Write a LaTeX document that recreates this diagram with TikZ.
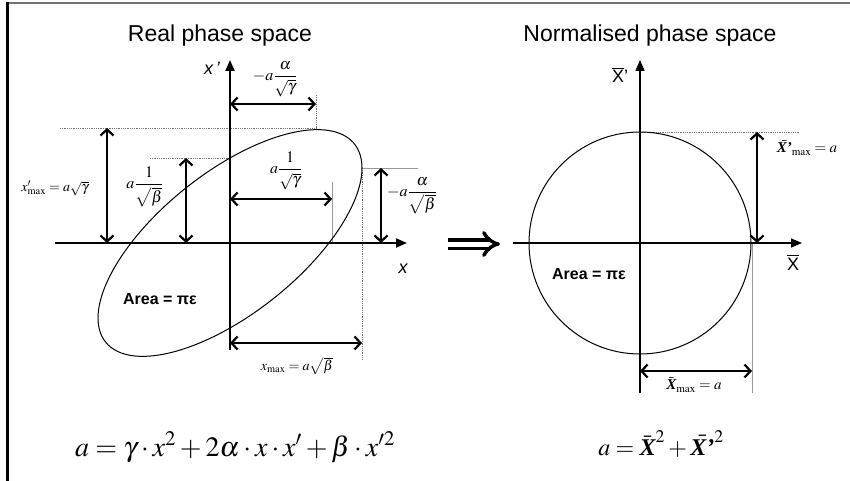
\documentclass[tikz,border=0pt]{standalone}
\usepackage{amsmath}
\usepackage{mathptmx}
\usepackage{fontspec}
\setmainfont{Liberation Serif}
\setsansfont{Liberation Sans}
\usetikzlibrary{arrows.meta}
\newcommand\myXb{\mbox{\bfseries\itshape X}}
\newcommand\myXbp{\mbox{\bfseries\itshape X'}}
\begin{document}
\begin{tikzpicture}[x=1pt,y=-1pt,
  dimarrow/.style={line width=2.2pt,{Straight Barb[length=6pt,width=13pt]}-{Straight Barb[length=6pt,width=13pt]}},
  axisL/.style={line width=2pt,-{Triangle[length=11pt,width=9pt]}},
  axisR/.style={line width=1.5pt,-{Triangle[length=11pt,width=9pt]}},
  guide/.style={black!55,line width=0.8pt,densely dotted},
  greyline/.style={black!40,line width=1pt},
  lab/.style={inner sep=0pt,font=\fontsize{16}{18}\selectfont},
  smalllab/.style={inner sep=0pt,font=\fontsize{14}{16}\selectfont},
  title/.style={inner sep=0pt,anchor=base,font=\sffamily\fontsize{23}{26}\selectfont},
  axlab/.style={inner sep=0pt,anchor=base,font=\sffamily\fontsize{18}{20}\selectfont},
  area/.style={inner sep=0pt,font=\sffamily\bfseries\fontsize{16}{18}\selectfont},
  eqn/.style={inner sep=0pt,anchor=base,font=\fontsize{28}{32}\selectfont}]
\useasboundingbox (0,0) rectangle (850,481);
% frame
\draw[black!55,line width=2pt] (6,3) -- (850,3);
\draw[line width=3pt] (7,2) -- (7,481);

% ---------- left: real phase space ----------
\node[title] (t1) at (220,42) {Real phase space};
\coordinate (O1) at (230,243);
\coordinate (XL) at (55,243);
\coordinate (XR) at (407,243);
\coordinate (YB) at (230,350);
\coordinate (YT) at (230,60);
% guides
\coordinate (g1a) at (60,128);  \coordinate (Etop) at (316,128);
\coordinate (g2a) at (316,95);
\coordinate (g3a) at (150,158); \coordinate (Eyint) at (230,158);
\coordinate (g4a) at (332,182); \coordinate (g4b) at (332,243);
\coordinate (Eright) at (362,168); \coordinate (g5b) at (418,168);
\coordinate (g6b) at (362,360);
\draw[guide] (g1a) -- (Etop);
\draw[guide] (g2a) -- (Etop);
\draw[guide] (g3a) -- (Eyint);
\draw[greyline] (g4a) -- (g4b);
\draw[greyline] (Eright) -- (g5b);
\draw[guide] (Eright) -- (g6b);
% ellipse
\draw[line width=1pt] plot[domain=0:360,samples=120,smooth cycle] ({230+132*cos(\x)},{243-75*cos(\x)+85*sin(\x)});
% axes
\draw[axisL] (XL) -- (XR);
\draw[axisL] (YB) -- (YT);
% dimension arrows
\coordinate (d1a) at (107,128); \coordinate (d1b) at (107,243);
\coordinate (d2a) at (186,158); \coordinate (d2b) at (186,243);
\coordinate (d3a) at (230,104); \coordinate (d3b) at (316,104);
\coordinate (d4a) at (230,199); \coordinate (d4b) at (332,199);
\coordinate (d5a) at (381,168); \coordinate (d5b) at (381,243);
\coordinate (d6a) at (230,343); \coordinate (d6b) at (362,343);
\draw[dimarrow] (d1a) -- (d1b);
\draw[dimarrow] (d2a) -- (d2b);
\draw[dimarrow] (d3a) -- (d3b);
\draw[dimarrow] (d4a) -- (d4b);
\draw[dimarrow] (d5a) -- (d5b);
\draw[dimarrow] (d6a) -- (d6b);
% labels
\node[axlab] (lxp) at (212,75) {\itshape x\,’};
\node[axlab] (lx) at (403,273) {\itshape x};
\node[lab] (l1) at (275,79) {$-a\dfrac{\alpha}{\sqrt{\gamma}}$};
\node[smalllab] (l2) at (55,188) {$x'_{\mathrm{max}} = a\sqrt{\gamma}$};
\node[lab] (l3) at (145,187) {$a\dfrac{1}{\sqrt{\beta}}$};
\node[lab] (l4) at (286,171) {$a\dfrac{1}{\sqrt{\gamma}}$};
\node[lab] (l5) at (412,196) {$-a\dfrac{\alpha}{\sqrt{\beta}}$};
\node[smalllab] (l6) at (297,366) {$x_{\mathrm{max}} = a\sqrt{\beta}$};
\node[area] (a1) at (160,299) {Area = πε};
\node[eqn] (e1) at (235,456) {$a = \gamma\cdot x^2 + 2\alpha\cdot x\cdot x' + \beta\cdot x'^2$};

% implies arrow
\coordinate (IA) at (448,244); \coordinate (IB) at (500,244);
\draw[line width=3.5pt,double distance=5pt,-{Implies}] (IA) -- (IB);

% ---------- right: normalised phase space ----------
\node[title] (t2) at (650,42) {Normalised phase space};
\coordinate (O2) at (640,243);
\coordinate (HL) at (513,243); \coordinate (HR) at (802,243);
\coordinate (VB) at (640,393); \coordinate (VT) at (640,60);
\coordinate (Ctop) at (640,132); \coordinate (c1b) at (800,132);
\coordinate (Cright) at (752,243); \coordinate (c2b) at (752,393);
\draw[guide] (Ctop) -- (c1b);
\draw[greyline] (Cright) -- (c2b);
\draw[line width=1pt] (O2) circle[radius=111];
\draw[axisR] (HL) -- (HR);
\draw[axisR] (VB) -- (VT);
\coordinate (r1a) at (757,132); \coordinate (r1b) at (757,243);
\coordinate (r2a) at (640,371); \coordinate (r2b) at (752,371);
\draw[dimarrow] (r1a) -- (r1b);
\draw[dimarrow] (r2a) -- (r2b);
\node[axlab] (lXp) at (620,83) {$\overline{\mbox{X}}$'};
\node[axlab] (lX) at (793,270) {$\overline{\mbox{X}}$};
\node[smalllab,font=\fontsize{15}{17}\selectfont] (l7) at (807,148) {$\bar{\myXbp}_{\mathrm{max}} = a$};
\node[smalllab,font=\fontsize{15}{17}\selectfont] (l8) at (694,385) {$\bar{\myXb}_{\mathrm{max}} = a$};
\node[area] (a2) at (589,274) {Area = πε};
\node[eqn,font=\fontsize{24}{28}\selectfont] (e2) at (661,455) {$a = \bar{\myXb}^2 + \bar{\myXbp}^2$};
\end{tikzpicture}
\end{document}
